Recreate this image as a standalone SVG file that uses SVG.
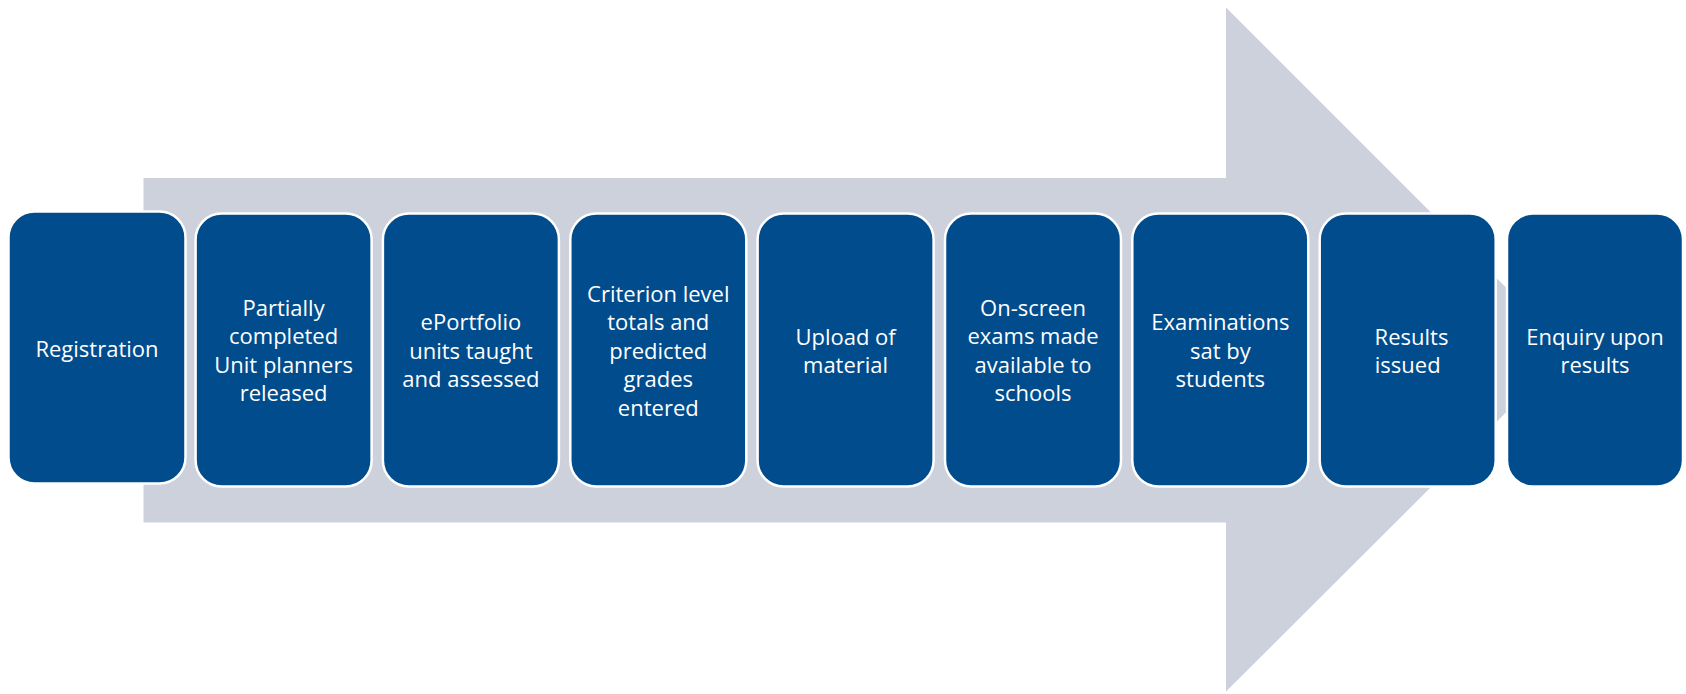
<svg xmlns="http://www.w3.org/2000/svg" width="1686" height="694" viewBox="0 0 1686 694">
<style>
.box{fill:#004C8C;stroke:#FFFFFF;stroke-width:2.5}
.lbl{font-family:"Open Sans","Noto Sans","Liberation Sans",sans-serif;font-size:22px;fill:#FFFFFF;text-anchor:middle}
</style>
<rect width="1686" height="694" fill="#FFFFFF"/>
<g id="connectors">
<polygon points="143.5,178 1226,178 1226,7.5 1568.5,350 1226,691.5 1226,522.5 143.5,522.5" fill="#CCD1DC"/>
</g>
<g id="n1"><rect class="box" x="8.5" y="211.5" width="177" height="272" rx="26"/>
<text class="lbl" x="97" y="356.5">Registration</text></g>
<g id="n2"><rect class="box" x="195.6" y="213.5" width="176" height="273" rx="26"/>
<text class="lbl"><tspan x="283.6" y="315.5">Partially</tspan><tspan x="283.6" y="344">completed</tspan><tspan x="283.6" y="372.5">Unit planners</tspan><tspan x="283.6" y="401">released</tspan></text></g>
<g id="n3"><rect class="box" x="382.9" y="213.5" width="176" height="273" rx="26"/>
<text class="lbl"><tspan x="470.9" y="330">ePortfolio</tspan><tspan x="470.9" y="358.5">units taught</tspan><tspan x="470.9" y="387">and assessed</tspan></text></g>
<g id="n4"><rect class="box" x="570.3" y="213.5" width="176" height="273" rx="26"/>
<text class="lbl"><tspan x="658.3" y="301.5">Criterion level</tspan><tspan x="658.3" y="330">totals and</tspan><tspan x="658.3" y="358.5">predicted</tspan><tspan x="658.3" y="387">grades</tspan><tspan x="658.3" y="415.5">entered</tspan></text></g>
<g id="n5"><rect class="box" x="757.6" y="213.5" width="176" height="273" rx="26"/>
<text class="lbl"><tspan x="845.6" y="345">Upload of</tspan><tspan x="845.6" y="373">material</tspan></text></g>
<g id="n6"><rect class="box" x="945" y="213.5" width="176" height="273" rx="26"/>
<text class="lbl"><tspan x="1033" y="315.5">On-screen</tspan><tspan x="1033" y="344">exams made</tspan><tspan x="1033" y="372.5">available to</tspan><tspan x="1033" y="401">schools</tspan></text></g>
<g id="n7"><rect class="box" x="1132.3" y="213.5" width="176" height="273" rx="26"/>
<text class="lbl"><tspan x="1220.3" y="330">Examinations</tspan><tspan x="1220.3" y="358.5">sat by</tspan><tspan x="1220.3" y="387">students</tspan></text></g>
<g id="n8"><rect class="box" x="1319.7" y="213.5" width="176" height="273" rx="26"/>
<text class="lbl"><tspan x="1411.5" y="345">Results</tspan><tspan x="1407.7" y="373">issued</tspan></text></g>
<g id="n9"><rect class="box" x="1507" y="213.5" width="176" height="273" rx="26"/>
<text class="lbl"><tspan x="1595" y="345">Enquiry upon</tspan><tspan x="1595" y="373">results</tspan></text></g>
</svg>
